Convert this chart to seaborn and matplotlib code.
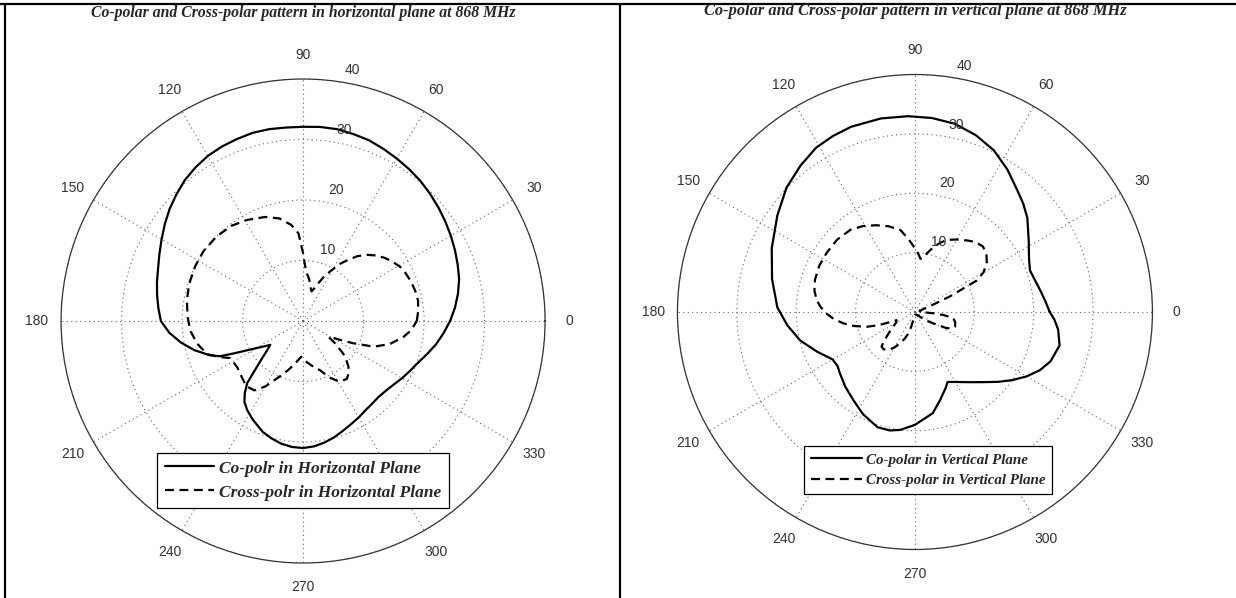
import numpy as np
import pandas as pd
import matplotlib
matplotlib.use("Agg")
import matplotlib.pyplot as plt
from matplotlib.lines import Line2D
import seaborn as sns

# horizontal plane, co-polar (angle deg, gain dB)
h_co_deg = [0, 5, 10, 15, 20, 25, 30, 35, 40, 45, 50, 55, 60, 65, 70, 75, 80, 85, 90, 95,
            100, 105, 110, 115, 120, 125, 130, 135, 140, 145, 150, 155, 160, 165, 170, 175,
            180, 185, 190, 195, 200, 203, 205, 210, 213, 216, 219, 222, 225, 228, 231, 234,
            238, 243, 250, 255, 260, 265, 270, 275, 280, 285, 290, 295, 300, 305, 310, 315,
            320, 325, 330, 335, 340, 345, 350, 355, 360]
h_co_db = [24.3, 25.2, 26.0, 26.7, 27.2, 27.7, 28.2, 28.7, 29.2, 29.7, 30.2, 30.6, 31.0,
           31.4, 31.8, 32.0, 32.2, 32.2, 32.1, 32.1, 32.2, 32.2, 32.0, 31.8, 31.5, 31.0,
           30.4, 29.6, 28.8, 27.9, 27.0, 26.2, 25.5, 25.0, 24.5, 24.0, 23.5, 22.2, 20.5,
           18.6, 16.5, 14.9, 12.7, 9.0, 7.7, 6.7, 7.6, 9.0, 10.9, 13.8, 15.3, 16.5, 17.4,
           18.3, 19.5, 20.1, 20.6, 20.9, 21.0, 20.8, 20.4, 19.9, 19.3, 18.8, 18.4, 18.0,
           17.8, 17.7, 17.9, 18.3, 18.9, 19.5, 20.2, 21.2, 22.3, 23.3, 24.3]

# horizontal plane, cross-polar
h_x_deg = [0, 5, 10, 15, 20, 25, 29, 34, 38, 42, 46, 50, 54, 57, 61, 65, 69, 72, 74, 77,
           80, 83, 86, 88, 90, 93, 97, 103, 110, 119, 127, 136, 145, 153, 162, 170, 178,
           185, 192, 199, 203, 207, 215, 222, 229, 235, 240, 247, 253, 258, 263, 267, 273,
           280, 289, 295, 301, 307, 311, 315, 318, 321, 325, 328, 330, 333, 336, 340, 345,
           351, 355, 360]
h_x_db = [18.8, 19.1, 19.3, 19.2, 19.0, 18.7, 18.4, 17.7, 17.0, 16.2, 15.2, 14.0, 12.4,
          11.3, 9.5, 8.0, 6.4, 5.5, 5.1, 5.6, 6.5, 7.3, 8.0, 9.2, 11.2, 14.5, 16.0, 17.4,
          18.3, 19.1, 19.7, 20.0, 20.1, 20.0, 19.8, 19.5, 19.1, 18.7, 17.9, 16.8, 15.2,
          13.5, 13.3, 13.7, 14.3, 14.0, 12.5, 10.0, 8.5, 7.4, 6.5, 5.9, 6.6, 7.4, 8.6,
          10.3, 11.7, 12.0, 11.5, 10.6, 9.6, 8.5, 6.5, 5.0, 5.3, 6.9, 9.0, 12.4, 14.8,
          16.8, 17.9, 18.8]

# vertical plane, co-polar
v_co_deg = [0, 5, 10, 15, 20, 25, 32, 40, 45, 50, 57, 64, 71, 78, 85, 92, 100, 109, 115,
            121, 128, 136, 145, 156, 167, 178, 186, 194, 202, 210, 215, 219, 227, 235, 243,
            252, 258, 263, 270, 280, 286, 292, 295, 300, 308, 315, 320, 325, 330, 335, 340,
            347, 353, 357, 360]
v_co_db = [22.7, 22.0, 21.4, 20.9, 20.6, 21.2, 22.6, 24.7, 25.8, 26.8, 28.6, 30.3, 31.5,
           32.4, 32.8, 33.0, 33.1, 33.0, 32.7, 32.3, 31.3, 30.1, 28.3, 26.4, 24.7, 23.2,
           21.6, 19.9, 17.8, 16.0, 15.9, 16.3, 17.2, 18.1, 19.3, 20.4, 20.4, 20.0, 19.0,
           17.3, 15.4, 13.8, 13.0, 13.6, 15.0, 16.7, 18.3, 20.0, 21.7, 23.2, 24.3, 25.0,
           24.3, 23.5, 22.7]

# vertical plane, cross-polar
v_x_deg = [0, 10, 18, 21, 24, 27, 30, 34, 39, 44, 49, 54, 60, 66, 70, 74, 78, 81, 84, 87,
           91, 95, 100, 107, 114, 121, 128, 137, 146, 154, 162, 168, 173, 177, 181, 185,
           189, 193, 197, 200, 204, 209, 214, 218, 221, 224, 226, 230, 235, 240, 244, 249,
           253, 256, 258, 265, 270, 300, 317, 322, 328, 333, 337, 340, 346, 351, 354, 356,
           360]
v_x_db = [1.0, 0.8, 1.2, 2.5, 6.4, 11.7, 13.3, 14.6, 15.5, 15.9, 15.6, 14.9, 14.1, 13.3,
          12.4, 11.4, 10.2, 9.4, 9.0, 9.9, 11.0, 12.3, 14.0, 15.1, 16.0, 16.9, 17.6, 17.9,
          17.9, 17.9, 17.7, 17.3, 16.7, 15.9, 14.9, 13.7, 12.2, 10.5, 8.5, 6.5, 3.4, 3.6,
          4.4, 5.4, 6.3, 7.4, 8.1, 8.2, 7.8, 6.9, 5.9, 4.8, 3.8, 2.5, 1.4, 0.6, 0.5, 0.5,
          1.2, 2.2, 3.6, 6.0, 6.9, 7.2, 7.0, 6.5, 4.8, 3.1, 1.0]

theta_ticks = list(range(0, 360, 30))
r_ticks = [10, 20, 30, 40]

sns.set_style("white")
plt.rcParams["font.family"] = ["Liberation Sans", "DejaVu Sans"]

fig = plt.figure(figsize=(12.36, 5.98), dpi=100)

panels = [
    dict(rect=[0.0494, 0.0585, 0.3916, 0.8094],
         title="Co-polar and Cross-polar pattern in horizontal plane at 868 MHz", tfs=11.3,
         ty=0.978,
         co=(h_co_deg, h_co_db), x=(h_x_deg, h_x_db),
         labels=["Co-polr in Horizontal Plane", "Cross-polr in Horizontal Plane"],
         lfs=12.5, hl=2.8, anchor=(0.5, 0.095)),
    dict(rect=[0.5481, 0.0811, 0.3843, 0.7943],
         title="Co-polar and Cross-polar pattern in vertical plane at 868 MHz", tfs=11.8,
         ty=0.981,
         co=(v_co_deg, v_co_db), x=(v_x_deg, v_x_db),
         labels=["Co-polar in Vertical Plane", "Cross-polar in Vertical Plane"],
         lfs=10.8, hl=3.4, anchor=(0.528, 0.102)),
]

for p in panels:
    ax = fig.add_axes(p["rect"], projection="polar")
    co = pd.DataFrame({"theta": np.deg2rad(p["co"][0]), "db": p["co"][1]})
    xp = pd.DataFrame({"theta": np.deg2rad(p["x"][0]), "db": p["x"][1]})
    sns.lineplot(data=co, x="theta", y="db", ax=ax, sort=False, estimator=None,
                 color="black", lw=1.6)
    sns.lineplot(data=xp, x="theta", y="db", ax=ax, sort=False, estimator=None,
                 color="black", lw=1.6, linestyle=(0, (4, 2.5)))
    ax.set_xlabel("")
    ax.set_ylabel("")
    ax.set_ylim(0, 40)
    ax.set_thetagrids(theta_ticks, [str(t) for t in theta_ticks])
    ax.set_rgrids(r_ticks, labels=[""] * len(r_ticks))
    ax.grid(True, linestyle=(0, (1, 3)), color="#666666", lw=0.8)
    ax.spines["polar"].set_color("#333333")
    ax.spines["polar"].set_linewidth(0.9)
    ax.tick_params(axis="x", pad=7, labelsize=10, labelcolor="#333333")
    for r in r_ticks:
        ax.annotate(str(r), xy=(np.deg2rad(82), r), xytext=(11.5, 8.0),
                    textcoords="offset points", ha="center", va="center",
                    fontsize=10, color="#333333")
    handles = [Line2D([], [], color="black", lw=1.6),
               Line2D([], [], color="black", lw=1.6, linestyle=(0, (4, 2.5)))]
    leg = ax.legend(handles, p["labels"], loc="lower center", bbox_to_anchor=p["anchor"],
                    fancybox=False, framealpha=1, edgecolor="black", handlelength=p["hl"],
                    borderpad=0.45, labelspacing=0.45, handletextpad=0.3,
                    prop=dict(family="Liberation Serif", style="italic", weight="bold",
                              size=p["lfs"]))
    leg.get_frame().set_linewidth(0.9)
    cx = p["rect"][0] + p["rect"][2] / 2
    fig.text(cx, p["ty"], p["title"], ha="center", va="center", fontsize=p["tfs"],
             family="Liberation Serif", style="italic", weight="bold")

# table borders around the two panels
fig.add_artist(Line2D([0, 1], [1 - 4 / 598, 1 - 4 / 598], color="black", lw=1.6))
fig.add_artist(Line2D([5 / 1236, 5 / 1236], [0, 1 - 4 / 598], color="black", lw=1.6))
fig.add_artist(Line2D([620 / 1236, 620 / 1236], [0, 1 - 4 / 598], color="black", lw=1.6))

fig.savefig("out.png", dpi=100)
